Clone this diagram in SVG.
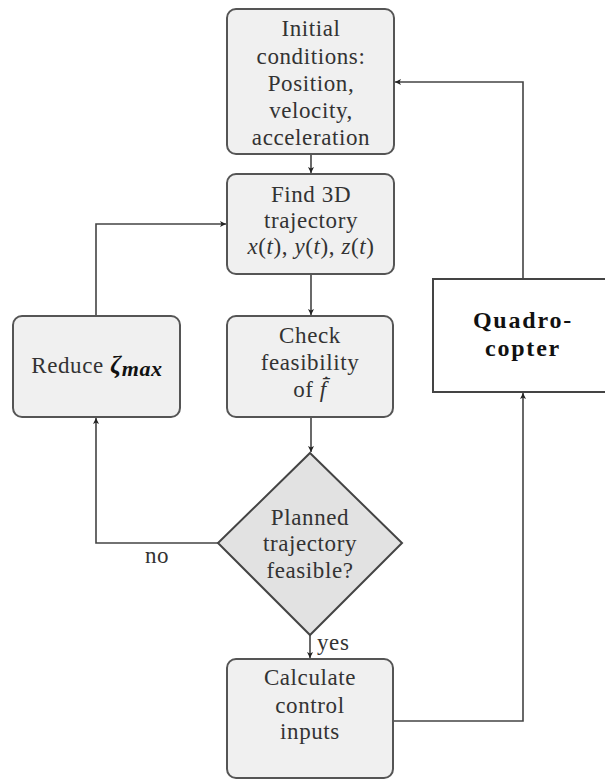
<svg xmlns="http://www.w3.org/2000/svg" width="605" height="780" viewBox="0 0 605 780">
<defs>
<marker id="ah" viewBox="0 0 10 10" refX="10" refY="5" markerWidth="6" markerHeight="6" markerUnits="userSpaceOnUse" orient="auto">
<path d="M0,0 L10,5 L0,10 L2.5,5 Z" fill="#222"/>
</marker>
</defs>
<style>
.box{fill:#f0f0f0;stroke:#555;stroke-width:2}
.dia{fill:#e2e2e2;stroke:#444;stroke-width:2}
.plain{fill:#fff;stroke:#444;stroke-width:2}
.t{font-size:23px;fill:#333;text-anchor:middle;letter-spacing:0.6px}
.b{font-size:24px;font-weight:bold;fill:#111;text-anchor:middle;letter-spacing:1.8px}
.c{fill:none;stroke:#444;stroke-width:1.6}
</style>
<rect width="605" height="780" fill="#fff"/>
<g font-family="Liberation Serif, DejaVu Serif, serif">
<g id="connectors">
<path class="c" d="M311,154 V173" marker-end="url(#ah)"/>
<path class="c" d="M311,274 V315" marker-end="url(#ah)"/>
<path class="c" d="M311,417 V452" marker-end="url(#ah)"/>
<path class="c" d="M310,635 V658" marker-end="url(#ah)"/>
<path class="c" d="M218,543 H96 V418" marker-end="url(#ah)"/>
<path class="c" d="M96,316 V224 H226" marker-end="url(#ah)"/>
<path class="c" d="M393,721 H523 V393" marker-end="url(#ah)"/>
<path class="c" d="M523,279 V82 H395" marker-end="url(#ah)"/>
<text class="t" x="157" y="563">no</text>
<text class="t" x="317" y="650" style="text-anchor:start">yes</text>
</g>
<g id="initial">
<rect class="box" x="227" y="9" width="167" height="145" rx="9"/>
<text class="t" x="311" y="36">Initial</text>
<text class="t" x="311" y="64">conditions:</text>
<text class="t" x="311" y="91">Position,</text>
<text class="t" x="311" y="118">velocity,</text>
<text class="t" x="311" y="145">acceleration</text>
</g>
<g id="find3d">
<rect class="box" x="227" y="174" width="167" height="100" rx="9"/>
<text class="t" x="311" y="202">Find 3D</text>
<text class="t" x="311" y="228">trajectory</text>
<text class="t" x="311" y="254" font-style="italic" letter-spacing="0.3">x<tspan font-style="normal">(</tspan>t<tspan font-style="normal">), </tspan>y<tspan font-style="normal">(</tspan>t<tspan font-style="normal">), </tspan>z<tspan font-style="normal">(</tspan>t<tspan font-style="normal">)</tspan></text>
</g>
<g id="reduce">
<rect class="box" x="13" y="316" width="167" height="101" rx="9"/>
<text class="t" x="97" y="373">Reduce <tspan font-weight="bold" font-style="italic" fill="#111" font-size="25">ζ<tspan font-size="22" dy="3">max</tspan></tspan></text>
</g>
<g id="check">
<rect class="box" x="227" y="316" width="166" height="101" rx="9"/>
<text class="t" x="310" y="343">Check</text>
<text class="t" x="310" y="370">feasibility</text>
<text class="t" x="310" y="397">of <tspan font-style="italic">f̄̇</tspan></text>
</g>
<g id="decision">
<polygon class="dia" points="310,453 402,543 310,635 218,543"/>
<text class="t" x="310" y="525">Planned</text>
<text class="t" x="310" y="551">trajectory</text>
<text class="t" x="310" y="578">feasible?</text>
</g>
<g id="calculate">
<rect class="box" x="227" y="659" width="166" height="119" rx="9"/>
<text class="t" x="310" y="685">Calculate</text>
<text class="t" x="310" y="713">control</text>
<text class="t" x="310" y="739">inputs</text>
</g>
<g id="quadrocopter">
<rect class="plain" x="433" y="279" width="182" height="113"/>
<text class="b" x="523" y="328">Quadro-</text>
<text class="b" x="523" y="356">copter</text>
</g>
</g>
</svg>
